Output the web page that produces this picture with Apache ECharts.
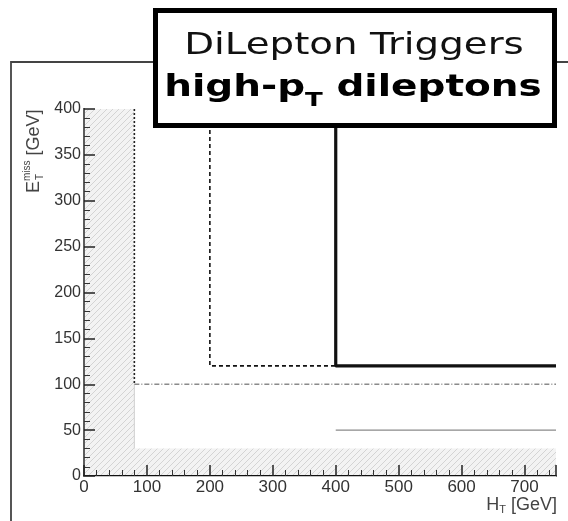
<!DOCTYPE html>
<html>
<head>
<meta charset="utf-8">
<script src="https://cdn.jsdelivr.net/npm/echarts@6/dist/echarts.min.js"></script>
<style>
  html, body { margin: 0; padding: 0; background: #fff; }
  #chart { width: 568px; height: 521px; }
</style>
</head>
<body>
<div id="chart"></div>
<script>
// Trigger acceptance thresholds in the HT / missing-ET plane (GeV)
const htRange = [0, 750];
const metRange = [0, 400];
const htTickStep = 100;
const metTickStep = 50;

// Regions vetoed by the preselection (hatched)
const vetoLowHt = [[0, 0], [80, 400]];
const vetoLowMet = [[0, 0], [750, 30]];

// Loose trigger boundary: HT > 80 and MET > 100
const looseHtEdge = [[80, 400], [80, 100]];
const looseMetEdge = [[80, 100], [750, 100]];
const looseGuide = [[80, 100], [80, 30]];

// Medium trigger boundary: HT > 200 and MET > 120
const mediumEdge = [[200, 400], [200, 120], [400, 120]];

// Tight trigger boundary: HT > 400 and MET > 120
const tightEdge = [[400, 400], [400, 120], [750, 120]];

// High-HT branch with MET > 50
const highHtFloor = [[400, 50], [750, 50]];

const titleLine1 = 'DiLepton Triggers';
const titleLine2 = ['high-p', 'T', ' dileptons'];

// diagonal hatch pattern for vetoed regions
function makeHatch() {
  const c = document.createElement('canvas');
  c.width = 6; c.height = 6;
  const g = c.getContext('2d');
  g.fillStyle = '#f3f3f3';
  g.fillRect(0, 0, 6, 6);
  g.strokeStyle = '#d4d4d4';
  g.lineWidth = 1;
  g.beginPath();
  g.moveTo(0, 6); g.lineTo(6, 0);
  g.moveTo(-1, 1); g.lineTo(1, -1);
  g.moveTo(5, 7); g.lineTo(7, 5);
  g.stroke();
  return c;
}
const hatch = { image: makeHatch(), repeat: 'repeat' };

const measure = document.createElement('canvas').getContext('2d');
function textWidth(font, s) { measure.font = font; return measure.measureText(s).width; }

const tickFont = '"Liberation Sans", Arial, sans-serif';

// title box content
const f1 = 'normal 31px "DejaVu Sans"';
const f2 = 'bold 30px "DejaVu Sans"';
const f2s = 'bold 20px "DejaVu Sans"';
const w2a = textWidth(f2, titleLine2[0]);
const w2b = textWidth(f2s, titleLine2[1]);
const w2c = textWidth(f2, titleLine2[2]);
const w2 = w2a + w2b + w2c;

// axis title pieces
const axFont = '18px "Liberation Sans", Arial, sans-serif';
const axSub = '11px "Liberation Sans", Arial, sans-serif';
const hW = textWidth(axFont, 'H');
const tW = textWidth(axSub, 'T');
const gevW = textWidth(axFont, ' [GeV]');
const xTitleW = hW + tW + gevW;

const eFont = '18px "Liberation Sans", Arial, sans-serif';
const eSub = '10px "Liberation Sans", Arial, sans-serif';
const eW = textWidth(eFont, 'E');
const missW = textWidth(eSub, 'miss');

function edgeSeries(data, color, width, type) {
  return {
    type: 'line', data: data, symbol: 'none', silent: true,
    lineStyle: { color: color, width: width, type: type, cap: 'butt' },
    z: 5
  };
}

const chart = echarts.init(document.getElementById('chart'), null, { renderer: 'canvas' });
chart.setOption({
  animation: false,
  backgroundColor: '#fff',
  grid: { left: 84, top: 109, right: 12, bottom: 45 },
  xAxis: [{
    type: 'value', min: htRange[0], max: htRange[1], interval: htTickStep, z: 8,
    axisLine: { lineStyle: { color: '#111', width: 2 } },
    axisTick: { inside: true, length: 11, lineStyle: { color: '#222', width: 1.5 } },
    minorTick: { show: true, splitNumber: 5, length: 6, lineStyle: { color: '#333', width: 1 } },
    axisLabel: { fontFamily: tickFont, fontSize: 17, color: '#333', margin: 3, showMaxLabel: false },
    splitLine: { show: false }
  }, {
    type: 'value', position: 'top', min: htRange[0], max: htRange[1], z: 8,
    axisLine: { show: true, lineStyle: { color: '#c4c4c4', width: 1 } },
    axisTick: { show: false }, axisLabel: { show: false }, splitLine: { show: false }
  }],
  yAxis: [{
    type: 'value', min: metRange[0], max: metRange[1], interval: metTickStep, z: 8,
    axisLine: { show: true, lineStyle: { color: '#111', width: 2 } },
    axisTick: { show: true, inside: true, length: 11, lineStyle: { color: '#222', width: 1.5 } },
    minorTick: { show: true, splitNumber: 5, length: 6, lineStyle: { color: '#333', width: 1 } },
    axisLabel: { fontFamily: tickFont, fontSize: 16, color: '#333', margin: 3 },
    splitLine: { show: false }
  }, {
    type: 'value', position: 'right', min: metRange[0], max: metRange[1], z: 8,
    axisLine: { show: true, lineStyle: { color: '#777', width: 1.5 } },
    axisTick: { show: false }, axisLabel: { show: false }, splitLine: { show: false }
  }],
  series: [
    {
      type: 'line', data: [], silent: true,
      markArea: {
        silent: true,
        itemStyle: { color: hatch, borderWidth: 0 },
        data: [
          [{ coord: vetoLowHt[0] }, { coord: vetoLowHt[1] }],
          [{ coord: vetoLowMet[0] }, { coord: vetoLowMet[1] }]
        ]
      },
      z: 1
    },
    edgeSeries(looseGuide, '#cfcfcf', 1, 'solid'),
    edgeSeries(looseHtEdge, '#222', 1.6, [2, 2]),
    edgeSeries(looseMetEdge, '#8a8a8a', 1.4, [5, 2, 1, 2]),
    edgeSeries(mediumEdge, '#111', 1.6, [4, 3]),
    edgeSeries(tightEdge, '#111', 3.2, 'solid'),
    edgeSeries(highHtFloor, '#8a8a8a', 1.2, 'solid')
  ],
  graphic: [
    // outer canvas frame
    {
      type: 'rect', z: 0, silent: true,
      shape: { x: 11, y: 62, width: 700, height: 600 },
      style: { fill: null, stroke: '#444', lineWidth: 1.8 }
    },
    // title box
    {
      type: 'rect', z: 100, silent: true,
      shape: { x: 155.5, y: 10.5, width: 399, height: 115 },
      style: { fill: '#fff', stroke: '#000', lineWidth: 5 }
    },
    {
      type: 'group', z: 101, x: 354, y: 0, scaleX: 1.25, silent: true,
      children: [
        {
          type: 'text', z: 101,
          style: { x: 0, y: 46, text: titleLine1, font: f1, fill: '#111', align: 'center', verticalAlign: 'middle' }
        }
      ]
    },
    {
      type: 'group', z: 101, x: 353, y: 0, scaleX: 1.3, silent: true,
      children: [
        {
          type: 'text', z: 101,
          style: { x: -w2 / 2, y: 88, text: titleLine2[0], font: f2, fill: '#000', align: 'left', verticalAlign: 'middle' }
        },
        {
          type: 'text', z: 101,
          style: { x: -w2 / 2 + w2a, y: 101, text: titleLine2[1], font: f2s, fill: '#000', align: 'left', verticalAlign: 'middle' }
        },
        {
          type: 'text', z: 101,
          style: { x: -w2 / 2 + w2a + w2b, y: 88, text: titleLine2[2], font: f2, fill: '#000', align: 'left', verticalAlign: 'middle' }
        }
      ]
    },
    // x axis title: H_T [GeV]
    {
      type: 'group', x: 557 - xTitleW, y: 505, silent: true,
      children: [
        { type: 'text', style: { x: 0, y: 0, text: 'H', font: axFont, fill: '#444', verticalAlign: 'middle' } },
        { type: 'text', style: { x: hW, y: 5, text: 'T', font: axSub, fill: '#444', verticalAlign: 'middle' } },
        { type: 'text', style: { x: hW + tW, y: 0, text: ' [GeV]', font: axFont, fill: '#444', verticalAlign: 'middle' } }
      ]
    },
    // y axis title: E_T^miss [GeV], reading upward
    {
      type: 'group', x: 34, y: 193, rotation: Math.PI / 2, silent: true,
      children: [
        { type: 'text', style: { x: 0, y: 0, text: 'E', font: eFont, fill: '#444', verticalAlign: 'middle' } },
        { type: 'text', style: { x: eW + 1, y: 6, text: 'T', font: eSub, fill: '#444', verticalAlign: 'middle' } },
        { type: 'text', style: { x: eW, y: -7, text: 'miss', font: eSub, fill: '#444', verticalAlign: 'middle' } },
        { type: 'text', style: { x: eW + missW, y: 0, text: ' [GeV]', font: eFont, fill: '#444', verticalAlign: 'middle' } }
      ]
    }
  ]
});
</script>
</body>
</html>
